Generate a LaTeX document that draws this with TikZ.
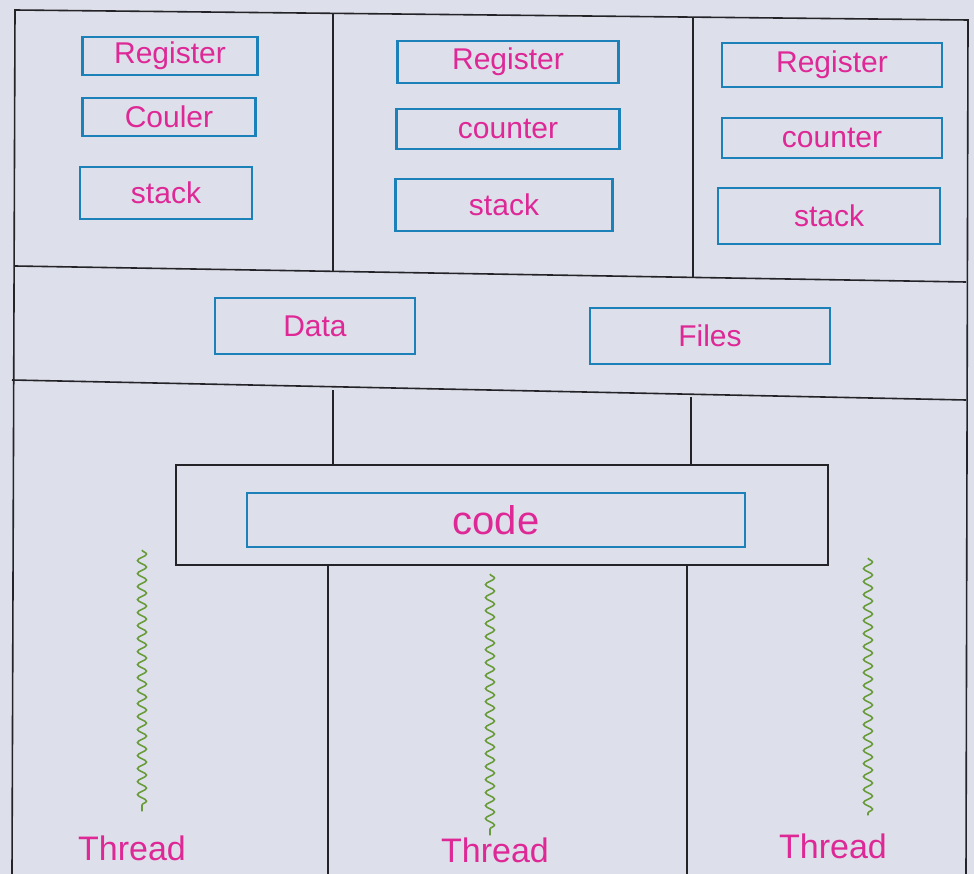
\documentclass[tikz,border=0pt]{standalone}
\usepackage{fontspec}
\setmainfont{Liberation Sans}
\usetikzlibrary{decorations.pathmorphing}
\definecolor{paper}{RGB}{221,223,234}
\definecolor{pen}{RGB}{28,128,185}
\definecolor{ink}{RGB}{222,40,150}
\definecolor{wire}{RGB}{105,155,60}
\definecolor{frame}{RGB}{35,35,40}
\tikzset{
  box/.style={draw=pen, line width=2.4pt, text=ink, font=\fontsize{30}{34}\selectfont, inner sep=0pt},
  divider/.style={draw=frame, line width=1.6pt},
  thread/.style={draw=wire, line width=1.6pt, decorate, decoration={snake, amplitude=4.5pt, segment length=13pt}},
  tlabel/.style={text=ink, font=\fontsize{34}{38}\selectfont, inner sep=0pt}
}
\begin{document}
\begin{tikzpicture}[x=1pt,y=-1pt]
\fill[paper] (0,0) rectangle (974,874);
\useasboundingbox (0,0) rectangle (974,874);
% code block
\node[draw=frame, line width=1.6pt, minimum width=652pt, minimum height=100pt, inner sep=0pt] (codeouter) at (502,515) {};
\node[box, minimum width=498pt, minimum height=54pt, font=\fontsize{40}{44}\selectfont] (code) at (496,520) {code};
% outer frame and dividers
\draw[divider] (12,874) -- (15,10) -- (968,20) -- (966,874);
\draw[divider] (15,266) -- (966,282);
\draw[divider] (12,380) -- (966,400);
\draw[divider] (333,14) -- (333,272);
\draw[divider] (693,18) -- (693,278);
\coordinate (v1) at (333,390);
\coordinate (v2) at (691,397);
\coordinate (v3) at (328,874);
\coordinate (v4) at (687,874);
\draw[divider] (v1) -- (v1 |- codeouter.north);
\draw[divider] (v2) -- (v2 |- codeouter.north);
\draw[divider] (v3 |- codeouter.south) -- (v3);
\draw[divider] (v4 |- codeouter.south) -- (v4);
% column 1
\node[box, minimum width=175pt, minimum height=38pt] (reg1) at (170,56) {Register};
\node[box, minimum width=173pt, minimum height=38pt] (cnt1) at (169,117) {Couler};
\node[box, minimum width=172pt, minimum height=52pt] (stk1) at (166,193) {stack};
% column 2
\node[box, minimum width=221pt, minimum height=42pt] (reg2) at (508,62) {Register};
\node[box, minimum width=223pt, minimum height=40pt] (cnt2) at (508,129) {counter};
\node[box, minimum width=217pt, minimum height=52pt] (stk2) at (504,205) {stack};
% column 3
\node[box, minimum width=220pt, minimum height=44pt] (reg3) at (832,65) {Register};
\node[box, minimum width=220pt, minimum height=40pt] (cnt3) at (832,138) {counter};
\node[box, minimum width=222pt, minimum height=56pt] (stk3) at (829,216) {stack};
% shared
\node[box, minimum width=200pt, minimum height=56pt] (data) at (315,326) {Data};
\node[box, minimum width=240pt, minimum height=56pt] (files) at (710,336) {Files};
% threads
\node[tlabel] (t1) at (132,848) {Thread};
\node[tlabel] (t2) at (495,850) {Thread};
\node[tlabel] (t3) at (833,846) {Thread};
\coordinate (s1) at (142,550);
\coordinate (s2) at (490,574);
\coordinate (s3) at (868,558);
\path[thread] (s1) -- ([yshift=24pt]t1.north -| s1);
\path[thread] (s2) -- ([yshift=2pt]t2.north -| s2);
\path[thread] (s3) -- ([yshift=18pt]t3.north -| s3);
\end{tikzpicture}
\end{document}
